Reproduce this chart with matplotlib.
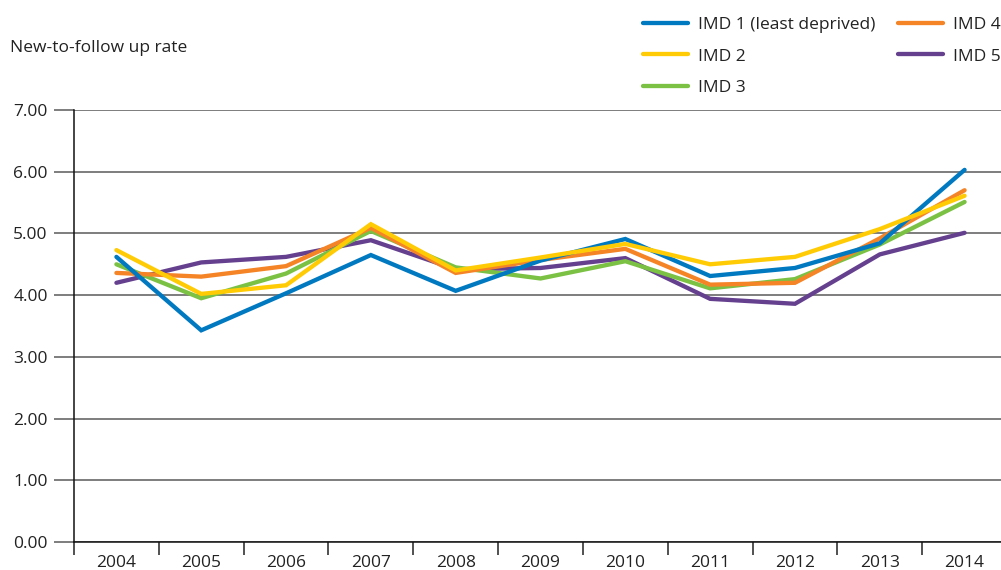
import matplotlib
matplotlib.use("Agg")
import matplotlib.pyplot as plt
from matplotlib.ticker import FixedLocator, FormatStrFormatter

plt.rcParams['font.family'] = ['Open Sans', 'DejaVu Sans']

years = ['2004', '2005', '2006', '2007', '2008', '2009', '2010', '2011', '2012', '2013', '2014']

imd1 = [4.62, 3.43, 4.03, 4.65, 4.07, 4.56, 4.91, 4.31, 4.44, 4.84, 6.03]
imd2 = [4.73, 4.02, 4.16, 5.15, 4.40, 4.61, 4.83, 4.50, 4.62, 5.07, 5.61]
imd3 = [4.50, 3.95, 4.35, 5.04, 4.45, 4.27, 4.55, 4.11, 4.26, 4.82, 5.51]
imd4 = [4.36, 4.30, 4.47, 5.09, 4.36, 4.57, 4.75, 4.17, 4.20, 4.92, 5.70]
imd5 = [4.20, 4.53, 4.62, 4.89, 4.42, 4.44, 4.60, 3.94, 3.86, 4.66, 5.01]

names = ['IMD 1 (least deprived)', 'IMD 2', 'IMD 3', 'IMD 4', 'IMD 5']
colors = ['#0079C1', '#FFCB05', '#7BC143', '#F58426', '#65408F']
series = [imd1, imd2, imd3, imd4, imd5]
# drawing order, bottom to top
zorders = [4, 5, 2, 3, 1]

W, H = 1001, 570
fig = plt.figure(figsize=(W / 100, H / 100), dpi=100)
ax = fig.add_axes([74 / W, 28 / H, (1007 - 74) / W, (542 - 110) / H])

x = list(range(len(years)))
handles = []
for vals, name, c, z in zip(series, names, colors, zorders):
    ln, = ax.plot(x, vals, color=c, lw=3.1, solid_capstyle='round',
                  solid_joinstyle='miter', label=name, zorder=z)
    handles.append(ln)

ax.set_xlim(-0.5, len(years) - 0.5)
ax.set_ylim(0, 7)

ax.set_yticks([0, 1, 2, 3, 4, 5, 6, 7])
ax.yaxis.set_major_formatter(FormatStrFormatter('%.2f'))
ax.yaxis.grid(True, color='#5a5a5a', lw=1.1)
ax.set_axisbelow(True)
ax.tick_params(axis='y', length=14.4, width=1.1, color='#5a5a5a', pad=4.5,
               labelsize=12.5, labelcolor='#222222')

ax.set_xticks(x)
ax.set_xticklabels(years)
ax.xaxis.set_minor_locator(FixedLocator([i - 0.5 for i in range(len(years) + 1)]))
ax.tick_params(axis='x', which='major', length=0, pad=9.3, labelsize=12.5,
               labelcolor='#222222')
ax.tick_params(axis='x', which='minor', length=9.5, width=1.1, color='#222222')

for s in ['top', 'right']:
    ax.spines[s].set_visible(False)
ax.spines['left'].set_color('#111111')
ax.spines['bottom'].set_color('#111111')
ax.spines['left'].set_linewidth(1.1)
ax.spines['bottom'].set_linewidth(1.1)

fig.text(10 / W, 1 - 48 / H, 'New-to-follow up rate', fontsize=12.5,
         color='#222222', va='center', ha='left')

fig.legend(handles=handles, ncol=2, loc='upper left',
           bbox_to_anchor=(627 / W, 1 - 1 / H), frameon=False,
           fontsize=12.5, handlelength=2.6, handletextpad=0.57,
           columnspacing=1.3, labelspacing=0.9, labelcolor='#222222')

fig.savefig('out.png', dpi=100)
